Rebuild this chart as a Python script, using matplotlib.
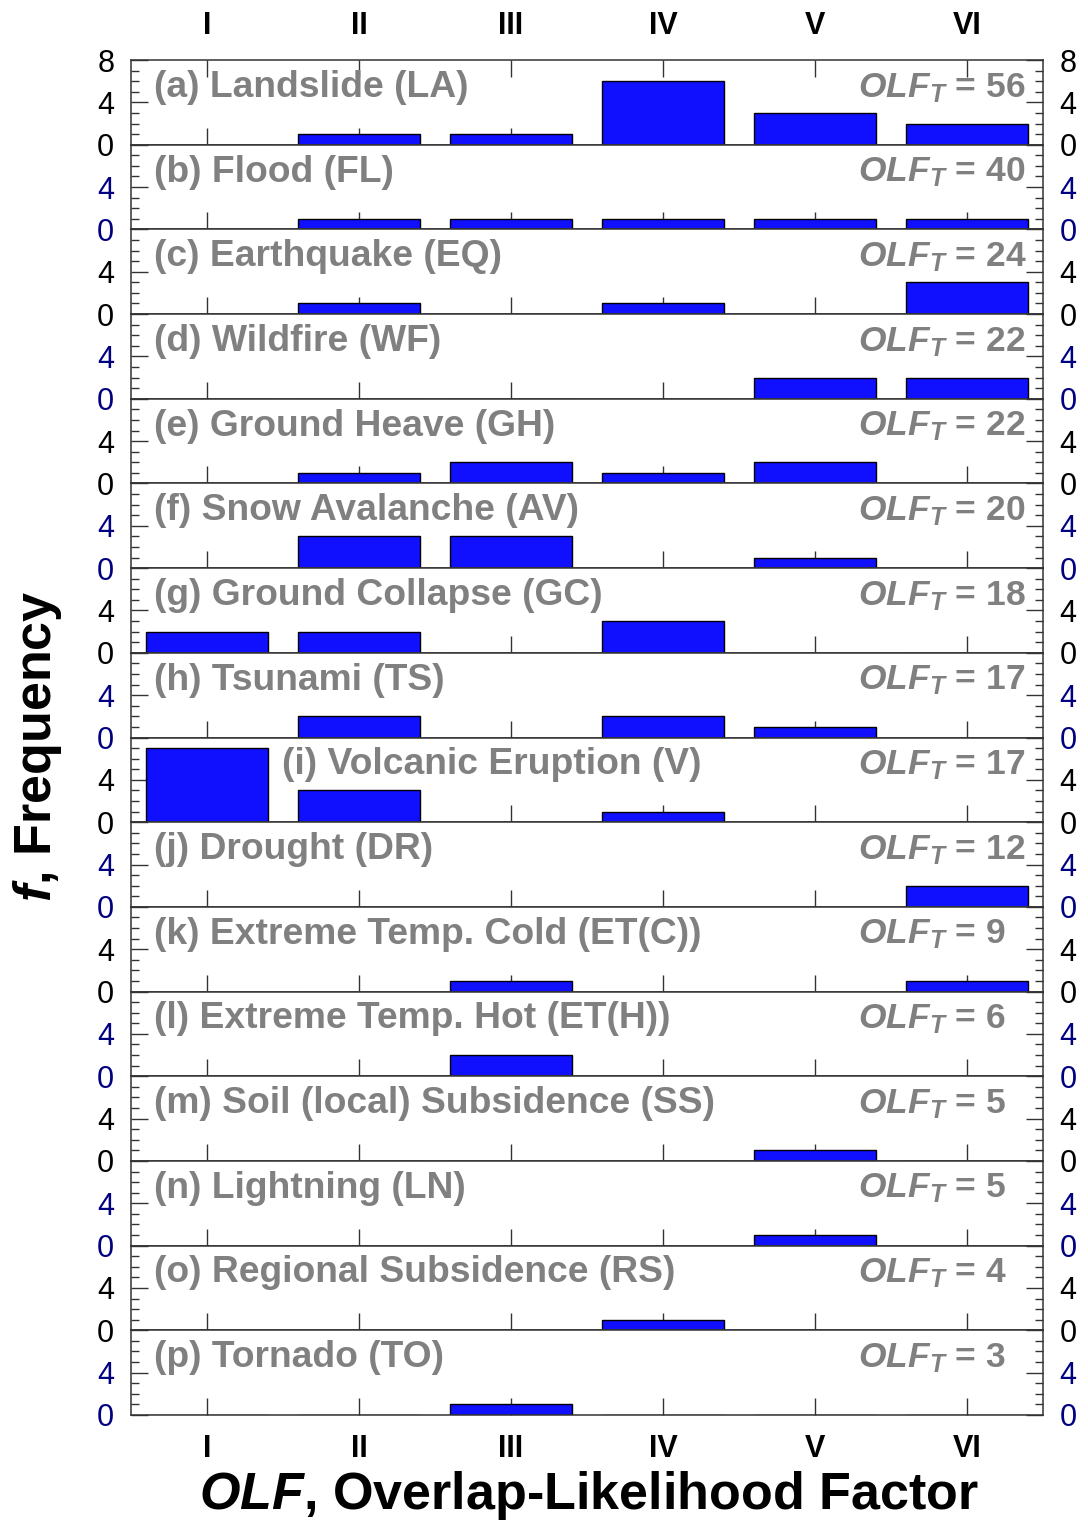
import matplotlib
matplotlib.use('Agg')
import matplotlib.pyplot as plt

plt.rcParams['font.family'] = ['Liberation Sans', 'DejaVu Sans']
plt.rcParams['mathtext.fontset'] = 'custom'
plt.rcParams['mathtext.rm'] = 'Liberation Sans:bold'
plt.rcParams['mathtext.bf'] = 'Liberation Sans:bold'
plt.rcParams['mathtext.it'] = 'Liberation Sans:italic:bold'
plt.rcParams['mathtext.bfit'] = 'Liberation Sans:italic:bold'

levels = ['I', 'II', 'III', 'IV', 'V', 'VI']

hazards = ['(a) Landslide (LA)', '(b) Flood (FL)', '(c) Earthquake (EQ)',
           '(d) Wildfire (WF)', '(e) Ground Heave (GH)', '(f) Snow Avalanche (AV)',
           '(g) Ground Collapse (GC)', '(h) Tsunami (TS)', '(i) Volcanic Eruption (V)',
           '(j) Drought (DR)', '(k) Extreme Temp. Cold (ET(C))',
           '(l) Extreme Temp. Hot (ET(H))', '(m) Soil (local) Subsidence (SS)',
           '(n) Lightning (LN)', '(o) Regional Subsidence (RS)', '(p) Tornado (TO)']

olf_total = [56, 40, 24, 22, 22, 20, 18, 17, 17, 12, 9, 6, 5, 5, 4, 3]

freq = [
    [0, 1, 1, 6, 3, 2],
    [0, 1, 1, 1, 1, 1],
    [0, 1, 0, 1, 0, 3],
    [0, 0, 0, 0, 2, 2],
    [0, 1, 2, 1, 2, 0],
    [0, 3, 3, 0, 1, 0],
    [2, 2, 0, 3, 0, 0],
    [0, 2, 0, 2, 1, 0],
    [7, 3, 0, 1, 0, 0],
    [0, 0, 0, 0, 0, 2],
    [0, 0, 1, 0, 0, 1],
    [0, 0, 2, 0, 0, 0],
    [0, 0, 0, 0, 1, 0],
    [0, 0, 0, 0, 1, 0],
    [0, 0, 0, 1, 0, 0],
    [0, 0, 1, 0, 0, 0],
]

grey = '#808080'
spine_c = '#333333'
x = list(range(1, len(levels) + 1))

fig, axes = plt.subplots(len(hazards), 1, figsize=(10.88, 15.21), dpi=100,
                         sharex=True)
fig.subplots_adjust(left=131/1088, right=1043/1088, top=1-60/1521,
                    bottom=1-1415/1521, hspace=0)

n = len(hazards)
for i, ax in enumerate(axes):
    ax.bar(x, freq[i], width=0.8, color='#1010ff', edgecolor='black',
           linewidth=1.0, zorder=2)
    ax.set_xlim(0.5, 6.5)
    ax.set_ylim(0, 8)
    for s in ax.spines.values():
        s.set_color(spine_c)
        s.set_linewidth(1.1)

    lab_c = 'black' if i % 2 == 0 else 'navy'
    ax.set_yticks([0, 4, 8])
    ax.set_yticks([1, 2, 3, 5, 6, 7], minor=True)
    ax.set_yticklabels(['0', '4', '8'] if i == 0 else ['0', '4', ''])
    ax.tick_params(axis='y', which='both', direction='in', left=True,
                   right=True, labelleft=True, labelright=True,
                   labelsize=22, labelcolor=lab_c, color=spine_c, pad=12)
    ax.tick_params(axis='y', which='major', length=12, width=1.0)
    ax.tick_params(axis='y', which='minor', length=6, width=1.0)

    ax.set_xticks(x)
    ax.set_xticklabels(levels)
    ax.tick_params(axis='x', which='major', direction='in', length=12,
                   width=1.0, color=spine_c, bottom=True, top=(i == 0),
                   labelbottom=(i == n - 1), labeltop=(i == 0),
                   labelsize=22, pad=14)
    for t in ax.get_xticklabels():
        t.set_fontweight('bold')

    lx = 0.166 if i == 8 else 0.025
    ax.text(lx, 0.565, hazards[i], transform=ax.transAxes, fontsize=26.8,
            fontweight='bold', color=grey, ha='left', va='baseline', zorder=3)
    ax.text(0.797, 0.565, r'$\mathbfit{OLF}_{\mathbfit{T}}$' + f' = {olf_total[i]}',
            transform=ax.transAxes, fontsize=25.5, fontweight='bold', color=grey,
            ha='left', va='baseline', zorder=3)

fig.text(589/1088, 1-1495/1521, r'$\mathbfit{OLF}$, Overlap-Likelihood Factor',
         fontsize=37.5, fontweight='bold', ha='center', va='center')
fig.text(38/1088, 1-746/1521, r'$\mathbfit{f}$, Frequency', fontsize=37.5,
         fontweight='bold', rotation=90, ha='center', va='center')

fig.savefig('out.png', dpi=100)
